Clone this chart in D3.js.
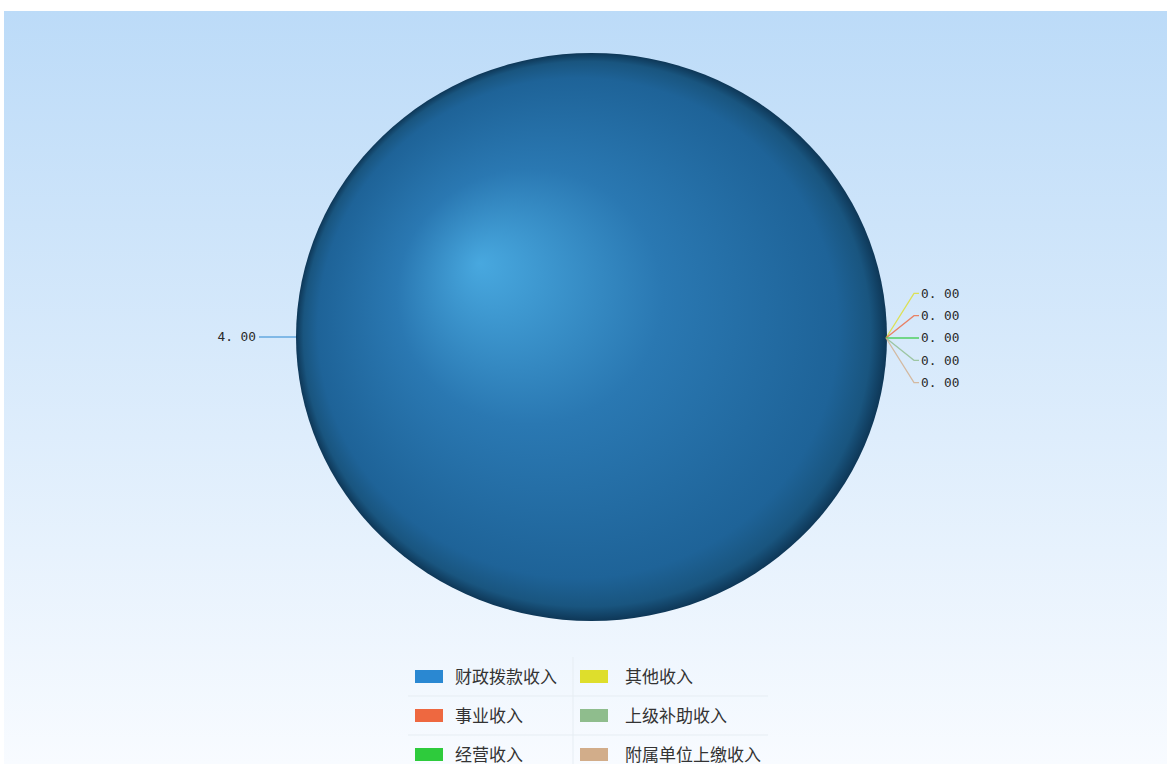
<!DOCTYPE html>
<html>
<head>
<meta charset="utf-8">
<script src="https://cdn.jsdelivr.net/npm/d3@7"></script>
<style>
  body { margin: 0; background: #fff; }
  svg { display: block; }
</style>
</head>
<body>
<div id="chart"></div>
<script>
const categories = ['财政拨款收入', '其他收入', '事业收入', '经营收入', '上级补助收入', '附属单位上缴收入'];
const values = [4.00, 0.00, 0.00, 0.00, 0.00, 0.00];
const colors = ['#2a88d2', '#dede2c', '#ee6840', '#2ecb3c', '#8fbd8d', '#d2ad8a'];
// legend order as in the picture (two columns)
const legendOrder = ['财政拨款收入', '其他收入', '事业收入', '上级补助收入', '经营收入', '附属单位上缴收入'];

const width = 1167, height = 764;
const cx = 591.5, cy = 337, radius = 295.5;
const squash = 284 / 295.5; // the picture is a little wider than tall

const svg = d3.select('#chart').append('svg')
  .attr('width', width).attr('height', height);

const defs = svg.append('defs');
const bg = defs.append('linearGradient').attr('id', 'bg')
  .attr('x1', 0).attr('y1', 0).attr('x2', 0).attr('y2', 1);
bg.append('stop').attr('offset', '0%').attr('stop-color', '#bcdbf8');
bg.append('stop').attr('offset', '100%').attr('stop-color', '#f8fbff');

const shade = defs.append('radialGradient').attr('id', 'shade')
  .attr('cx', 0.5).attr('cy', 0.5).attr('r', 0.5)
  .attr('fx', 0.31).attr('fy', 0.37);
shade.append('stop').attr('offset', '0%').attr('stop-color', '#48a8df');
shade.append('stop').attr('offset', '45%').attr('stop-color', '#2a78b2');
shade.append('stop').attr('offset', '88%').attr('stop-color', '#1e6398');
shade.append('stop').attr('offset', '96%').attr('stop-color', '#19557f');
shade.append('stop').attr('offset', '100%').attr('stop-color', '#0e3757');

svg.append('rect').attr('x', 4).attr('y', 11)
  .attr('width', width - 4).attr('height', height - 11)
  .attr('fill', 'url(#bg)');

const color = d3.scaleOrdinal().domain(categories).range(colors);

const pie = d3.pie().sort(null).value(d => d.value)
  .startAngle(Math.PI / 2).endAngle(Math.PI / 2 + 2 * Math.PI);
const arcs = pie(categories.map((c, i) => ({ name: c, value: values[i] })));
const arc = d3.arc().innerRadius(0).outerRadius(radius);

const g = svg.append('g').attr('transform', `translate(${cx},${cy}) scale(1,${squash})`);

g.selectAll('path.slice')
  .data(arcs.filter(d => d.value > 0))
  .join('path')
  .attr('class', 'slice')
  .attr('d', arc)
  .attr('fill', (d, i) => i === 0 ? 'url(#shade)' : color(d.data.name));

// labels
const fmt = d3.format('.2f');
const labels = svg.append('g').attr('transform', `translate(${cx},${cy})`)
  .style('font-family', '"DejaVu Sans Mono", monospace')
  .style('font-size', '12.8px').attr('fill', '#2a2a2a');

const big = arcs.filter(d => d.value > 0);
const zeros = arcs.filter(d => d.value === 0);

big.forEach(d => {
  const a = (d.startAngle + d.endAngle) / 2;
  const sx = Math.sin(a) * radius, sy = -Math.cos(a) * radius * squash;
  const ex = Math.sin(a) * (radius + 37), ey = sy;
  labels.append('line').attr('x1', sx).attr('y1', sy).attr('x2', ex).attr('y2', ey)
    .attr('stroke', color(d.data.name)).attr('stroke-width', 1);
  labels.append('text').attr('x', ex - 3).attr('y', ey).attr('dy', '0.35em')
    .attr('text-anchor', 'end').text(fmt(d.data.value).replace('.', '. '));
});

const step = 22.3;
zeros.forEach((d, i) => {
  const a = d.startAngle;
  const sx = Math.sin(a) * radius - 1, sy = -Math.cos(a) * radius * squash + 1;
  const ly = sy + (i - (zeros.length - 1) / 2) * step;
  const ex = sx + 28, tx = sx + 33;
  labels.append('polyline')
    .attr('points', `${sx},${sy} ${ex},${ly} ${tx},${ly}`)
    .attr('fill', 'none').attr('stroke', color(d.data.name)).attr('stroke-width', 1.3)
    .attr('stroke-opacity', 0.8);
  labels.append('text').attr('x', tx + 2).attr('y', ly).attr('dy', '0.35em')
    .text(fmt(d.data.value).replace('.', '. '));
});

// legend
const legend = svg.append('g').attr('transform', 'translate(408,657)');
const colW = 165, rowH = 39;
legend.append('line').attr('x1', colW).attr('x2', colW).attr('y1', 0).attr('y2', 120)
  .attr('stroke', '#e6edf3');
[1, 2].forEach(r => {
  legend.append('line').attr('x1', 0).attr('x2', 2 * colW + 30)
    .attr('y1', r * rowH).attr('y2', r * rowH).attr('stroke', '#e6edf3');
});
const items = legend.selectAll('g.item').data(legendOrder).join('g')
  .attr('class', 'item')
  .attr('transform', (d, i) => `translate(${(i % 2) * colW},${Math.floor(i / 2) * rowH})`);
items.append('rect').attr('x', 7).attr('y', 13).attr('width', 28).attr('height', 13)
  .attr('fill', d => color(d));
items.append('text').attr('x', (d, i) => i % 2 ? 52 : 47).attr('y', 20).attr('dy', '0.35em')
  .style('font-family', '"Noto Sans CJK SC", sans-serif').style('font-size', '17px')
  .attr('fill', '#333').text(d => d);
</script>
</body>
</html>
